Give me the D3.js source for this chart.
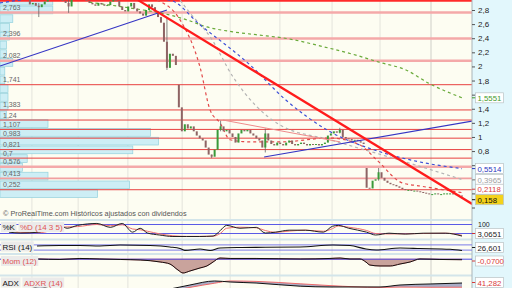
<!DOCTYPE html>
<html>
<head>
<meta charset="utf-8">
<script src="https://cdn.jsdelivr.net/npm/d3@7"></script>
<style>
html, body { margin: 0; padding: 0; background: #fdfdf2; }
svg { display: block; font-family: "Liberation Sans", Arial, sans-serif; }
</style>
</head>
<body>
<div id="chart"></div>
<script>
// ---- price data (one candle per bar index) ----
const closes = [
    3.05, 3.08, 3.10, 3.06, 3.02, 3.00, 2.98, 2.96,
    2.88, 2.90, 2.86, 2.84, 2.88, 2.92, 2.95, 2.97, 2.98, 2.96, 2.95, 2.93,
    2.90, 2.85, 2.95, 3.00, 3.00, 2.98, 2.96, 2.93, 2.90, 2.88, 2.86, 2.90,
    2.88, 2.86, 2.87, 2.92, 2.95, 2.93, 2.85, 2.80, 2.78, 2.85, 2.90, 2.82,
    2.78, 2.75, 2.72, 2.80, 2.88, 2.84, 2.78, 2.70, 2.62, 2.35, 1.98, 2.18,
    2.15, 2.02, 1.42, 1.08, 1.18, 1.12, 1.15, 1.08, 1.02, 0.98, 0.95, 0.85,
    0.75, 0.72, 0.82, 1.10, 1.15, 1.08, 1.10, 1.05, 1.00, 0.92, 1.05, 1.10,
    1.08, 1.10, 1.05, 1.02, 0.98, 0.95, 0.85, 1.05, 0.95, 0.90, 0.88, 0.92,
    0.90, 0.88, 0.92, 0.95, 0.90, 0.88, 0.90, 0.92, 0.90, 0.88, 0.90, 0.89,
    0.90, 0.88, 0.90, 0.92, 1.02, 1.05, 1.08, 1.06, 1.10, 1.00, 0.98, 0.97,
    0.95, 0.96, 0.94, 0.92, 0.90, 0.28, 0.27, 0.38, 0.40, 0.50, 0.42, 0.38,
    0.35, 0.33, 0.32, 0.30, 0.28, 0.26, 0.25, 0.25, 0.24, 0.24, 0.23, 0.22,
    0.21, 0.20, 0.19, 0.19, 0.20, 0.19, 0.19, 0.20, 0.20, 0.20, 0.19, 0.18,
    0.17, 0.158
];
const gapOpens = { 58: 1.74, 121: 0.56 };
const wicks = [[11, 2.90, 2.70], [21, 2.95, 2.76], [54, 2.70, 1.95], [72, 1.23, 1.08],
               [87, 1.12, 0.78], [112, 1.13, 1.05], [125, 0.56, 0.38], [69, 0.75, 0.70]];

// ---- support / resistance levels ----
const levels = [2.93, 2.763, 2.396, 2.082, 1.741, 1.383, 1.24, 1.107, 0.983, 0.821, 0.7, 0.576, 0.413, 0.252];
const levelLabels = ["", "2,763", "2,396", "2,082", "1,741", "1,383", "1,24", "1,107", "0,983", "0,821", "0,7", "0,576", "0,413", "0,252"];
const levelKind = ["top", "pale", "pale", "pale", "thin", "thin", "thin", "thin", "thin", "thin", "thin", "pale", "mid", "thin"];

// ---- volume profile ----
const profileLow = [0.135, 0.259, 0.383, 0.507, 0.631, 0.755, 0.879, 1.003, 1.127, 1.251, 1.375, 1.499,
                    1.623, 1.747, 1.871, 1.995, 2.119, 2.243, 2.367, 2.491, 2.615, 2.739, 2.863];
const profileVolume = [6.1, 8.1, 3.0, 1.4, 1.7, 8.3, 9.9, 9.4, 3.0, 0.4, 0.5, 0.5,
                       0.5, 0.3, 0.3, 0.8, 0.4, 0.4, 0.6, 0.6, 0.8, 3.3, 3.3];

// ---- moving averages [bar index, price] ----
const maGreen = [[28, 2.91], [46, 2.80], [51.7, 2.76], [60.7, 2.66], [67.4, 2.56], [76.2, 2.49], [83.9, 2.45],
                 [95, 2.39], [106.4, 2.28], [117.4, 2.16], [125.2, 2.06], [134.2, 1.95], [141.9, 1.76], [153, 1.5551]];
const maBlue = [[-2, 2.90], [8, 2.96], [31.5, 3.03], [55, 2.94], [65.1, 2.59], [81.9, 2.02], [94, 1.52],
                [107.7, 1.10], [125.5, 0.79], [138.9, 0.645], [153, 0.5514]];
const maGrey = [[58.4, 2.94], [61.7, 2.76], [68.5, 2.42], [76.2, 1.85], [91.9, 1.17], [108.7, 0.96],
                [132.2, 0.67], [153, 0.3965]];
const maRed = [[50.7, 2.94], [58.4, 2.66], [65.1, 1.99], [68.5, 1.38], [71.8, 1.20], [75.2, 0.96], [81.9, 0.93],
               [91.9, 0.93], [108.7, 0.985], [118.8, 0.885], [124.5, 0.67], [132.9, 0.35], [138.9, 0.305], [153, 0.2118]];

// ---- trend lines [bar index, price] ----
const trendBlueUp = [[-2, 2.006], [54, 2.80]];
const trendBlueLow = [[86.6, 0.716], [156.4, 1.226]];
const trendRed = [[44.3, 2.94], [156.4, 0.05]];
const trendPink = [[72.8, 1.24], [112.1, 0.93]];

const priceTicks = [0, 0.2, 0.4, 0.6, 0.8, 1, 1.2, 1.4, 1.6, 1.8, 2, 2.2, 2.4, 2.6, 2.8];
const monthIdx = [8.7, 24.2, 40.9, 59.1, 75.2, 91.9, 109.4, 125.5, 142.6];

// ---- indicators ----
const stochIdx = [1, 5, 11, 15, 18, 20.5, 24, 30.5, 35, 39, 42.5, 45, 47.5, 51.5, 56, 60.5, 65, 69.5, 72, 74,
                  78.5, 84, 87, 90.5, 95, 100.5, 106.5, 109.5, 111.5, 115, 121, 124, 128.5, 134, 140, 147.5, 153];
const stochK = [29, 23, 29, 55, 74, 55, 74, 87, 61, 87, 29, 55, 23, 10, 0, 0, 0, 3, 42, 74,
                55, 61, 23, 29, 42, 42, 29, 68, 74, 55, 29, 10, 22, 16, 22, 22, 3];
const stochD = [35, 27, 25, 40, 62, 64, 66, 80, 72, 78, 50, 45, 35, 18, 5, 1, 1, 2, 22, 55,
                62, 58, 40, 28, 36, 42, 35, 52, 70, 62, 40, 20, 17, 18, 20, 22, 8];

const rsiIdx = [10.4, 18.1, 24.8, 31.5, 38.3, 48.3, 55, 58.4, 60, 65.1, 68.5, 71.8, 78.5, 83.9, 98.7,
                109.7, 115.4, 120.8, 124.2, 132.2, 138.9, 149, 153];
const rsiVals = [62, 65, 65, 62, 69, 65, 54, 42, 28, 38, 27, 46, 50, 51, 54, 69, 65, 38, 31, 46, 42, 36, 26.6];

const momIdx = [10.4, 18.1, 24.8, 31.5, 38.3, 45, 51.7, 55, 57.7, 59.4, 61.7, 65.1, 67.4, 69.5, 71.8, 75.2,
                83.9, 98.7, 108.7, 112.1, 115.4, 118.8, 120.8, 122.1, 125.5, 128.9, 132.2, 135.6, 138.9, 145.6, 153];
const momVals = [0.03, -0.04, 0.10, 0.03, -0.04, -0.11, -0.38, -0.66, -1.48, -1.89, -1.62, -1.20, -0.93, -0.38,
                 0.16, 0.10, 0.10, 0.03, 0.10, 0.16, 0.03, 0.03, -0.40, -0.80, -0.93, -0.93, -0.66, -0.38, 0.03, -0.04, -0.07];

const adxIdx = [2, 8, 11.4, 14.8, 20, 40, 55, 61.7, 70, 75.2, 83.9, 98.7, 108.7, 125.5, 132.2, 142.3, 153];
const adxVals = [36, 38.3, 42.5, 38.3, 35, 32, 38.3, 45, 51.7, 50, 48.3, 43, 41.7, 41.7, 45, 46.7, 48.3];
const adxrVals = [33, 35, 37, 38, 36, 33, 35, 41, 48, 51.7, 51, 47, 44, 41, 41.5, 41.2, 41.282];

// ---- layout ----
const W = 512, H = 288;
const plotRight = 472;
const mainBottom = 219;
const panels = {
    stoch: [221, 238.5],
    rsi: [240.5, 253],
    mom: [255, 274.5],
    adx: [276.5, 288]
};

const fmt = d => d3.format(".1~f")(d).replace(".", ",");

const svg = d3.select("#chart").append("svg")
    .attr("width", W)
    .attr("height", H)
    .attr("viewBox", `0 0 ${W} ${H}`);

const x = d3.scaleLinear().domain([0, 153]).range([6, 462]);
const y = d3.scaleLinear().domain([0, 2.8]).range([207.5, 10]);

// backgrounds
svg.append("rect").attr("x", 0).attr("y", 0).attr("width", W).attr("height", H).attr("fill", "#fdfdf2");
svg.append("rect").attr("x", plotRight).attr("y", 0).attr("width", W - plotRight).attr("height", H).attr("fill", "#e2f7fc");

const defs = svg.append("defs");
function addClip(id, x0, y0, w, h){
    defs.append("clipPath").attr("id", id)
        .append("rect").attr("x", x0).attr("y", y0).attr("width", w).attr("height", h);
}
addClip("clip-main", 0, 0, plotRight, mainBottom);
Object.entries(panels).forEach(([k, [t, b]]) => addClip("clip-" + k, 0, t, plotRight, b - t));

// month grid
svg.append("g").selectAll("line")
    .data(monthIdx)
    .enter()
    .append("line")
        .attr("x1", d => x(d)).attr("x2", d => x(d))
        .attr("y1", 0).attr("y2", H)
        .attr("stroke", (d, i) => i === monthIdx.length - 1 ? "#cfcfc8" : "#e4e4dc")
        .attr("stroke-width", 1);

// panel separators
[mainBottom, panels.stoch[1], panels.rsi[1], panels.mom[1]].forEach(yy => {
    svg.append("rect").attr("x", 0).attr("y", yy).attr("width", plotRight).attr("height", 2)
        .attr("fill", "#d3e5ea");
});

// ===== main price panel =====
const main = svg.append("g").attr("clip-path", "url(#clip-main)");

const volX = d3.scaleLinear().domain([0, 10]).range([0, 160]);
main.append("g").selectAll("rect")
    .data(profileLow)
    .enter()
    .append("rect")
        .attr("x", 0)
        .attr("y", d => y(d + 0.124) + 0.5)
        .attr("width", (d, i) => volX(profileVolume[i]))
        .attr("height", d => y(d) - y(d + 0.124) - 1)
        .attr("fill", "#cdeef5")
        .attr("stroke", "#93d0dc")
        .attr("stroke-width", 0.7);

const levelStyle = {
    top: { c: "#ff2a2a", w: 2 },
    pale: { c: "#f4a9a9", w: 2.5 },
    mid: { c: "#f1a0a0", w: 1.6 },
    thin: { c: "#e8403f", w: 1 }
};
main.append("g").selectAll("line")
    .data(levels)
    .enter()
    .append("line")
        .attr("x1", 0).attr("x2", plotRight)
        .attr("y1", d => y(d)).attr("y2", d => y(d))
        .attr("stroke", (d, i) => levelStyle[levelKind[i]].c)
        .attr("stroke-width", (d, i) => levelStyle[levelKind[i]].w);

const line = d3.line().x(d => x(d[0])).y(d => y(d[1]));
const smooth = d3.line().x(d => x(d[0])).y(d => y(d[1])).curve(d3.curveMonotoneX);

[[maGreen, "#6aaa3a"], [maGrey, "#b4b4b4"], [maBlue, "#3c4fd6"], [maRed, "#e24a4a"]].forEach(([pts, c]) => {
    main.append("path")
        .attr("d", smooth(pts))
        .attr("fill", "none")
        .attr("stroke", c)
        .attr("stroke-width", 1.2)
        .attr("stroke-dasharray", "3,3");
});

// candles
const opens = closes.map((c, i) => gapOpens[i] !== undefined ? gapOpens[i] : (i ? closes[i - 1] : c));
const candles = main.append("g");
candles.selectAll("line")
    .data(wicks)
    .enter()
    .append("line")
        .attr("x1", d => x(d[0])).attr("x2", d => x(d[0]))
        .attr("y1", d => y(d[1])).attr("y2", d => y(d[2]))
        .attr("stroke", "#666")
        .attr("stroke-width", 0.8);
candles.selectAll("rect")
    .data(closes)
    .enter()
    .append("rect")
        .attr("x", (d, i) => x(i) - 1)
        .attr("y", (d, i) => y(Math.max(d, opens[i])))
        .attr("width", 2)
        .attr("height", (d, i) => Math.max(1, Math.abs(y(d) - y(opens[i]))))
        .attr("fill", (d, i) => d >= opens[i] ? "#3a9a3a" : "#8e6464");

// trend lines
main.append("path").attr("d", line(trendBlueUp)).attr("stroke", "#3535c4").attr("stroke-width", 1.2).attr("fill", "none");
main.append("path").attr("d", line(trendBlueLow)).attr("stroke", "#3535c4").attr("stroke-width", 1.2).attr("fill", "none");
main.append("path").attr("d", line(trendPink)).attr("stroke", "#ee8a8a").attr("stroke-width", 1).attr("fill", "none");
main.append("path").attr("d", line(trendRed)).attr("stroke", "#ff1c1c").attr("stroke-width", 2.2).attr("fill", "none");

// level labels
main.append("g").selectAll("text")
    .data(levels)
    .enter()
    .append("text")
        .attr("x", 3)
        .attr("y", d => y(d) - 2.5)
        .attr("font-size", 7)
        .attr("fill", "#666")
        .text((d, i) => levelLabels[i]);

// credit
svg.append("text")
    .attr("x", 3).attr("y", 216)
    .attr("font-size", 7.3)
    .attr("fill", "#555")
    .text("© ProRealTime.com  Históricos ajustados con dividendos");

// last-value boxes (price panel)
const maLast = [
    { v: maGreen[maGreen.length - 1][1], t: "1,5551", c: "#3f9a2a", bg: "#fff" },
    { v: maBlue[maBlue.length - 1][1], t: "0,5514", c: "#2a36c0", bg: "#fff" },
    { v: maGrey[maGrey.length - 1][1], t: "0,3965", c: "#a0a0a0", bg: "#fff" },
    { v: maRed[maRed.length - 1][1], t: "0,2118", c: "#d83a3a", bg: "#fff" },
    { v: closes[closes.length - 1], t: "0,158", c: "#111", bg: "#f4d21a" }
];
maLast.forEach(d => d.cy = y(d.v));
for (let i = 1; i < maLast.length; i++) {
    const a = maLast[i - 1], b = maLast[i];
    if (b.cy - a.cy < 10.5) {
        const mid = (a.cy + b.cy) / 2;
        a.cy = mid - 5.25;
        b.cy = mid + 5.25;
    }
}

// right axis (tick labels that sit under a value box are left out)
svg.append("line").attr("x1", plotRight).attr("x2", plotRight).attr("y1", 0).attr("y2", H)
    .attr("stroke", "#a9b4b8");
const hidden = d => maLast.some(m => Math.abs(m.cy - y(d)) < 9);
const axis = svg.append("g")
    .attr("transform", `translate(${plotRight},0)`)
    .call(d3.axisRight(y).tickValues(priceTicks).tickSize(3).tickFormat(d => hidden(d) ? "" : fmt(d)));
axis.select(".domain").remove();
axis.selectAll("line").attr("stroke", "#555");
axis.selectAll("text").attr("font-size", 8).attr("fill", "#222").attr("font-family", "Liberation Sans, Arial, sans-serif");

function valueBox(cy, t, c, bg, tickColor){
    const g = svg.append("g");
    g.append("line").attr("x1", plotRight).attr("x2", plotRight + 4).attr("y1", cy).attr("y2", cy)
        .attr("stroke", tickColor || c).attr("stroke-width", 1);
    g.append("rect").attr("x", plotRight + 3.5).attr("y", cy - 5).attr("width", 28).attr("height", 10)
        .attr("fill", bg).attr("stroke", "#b9c2c4").attr("stroke-width", 0.7);
    g.append("text").attr("x", plotRight + 5.5).attr("y", cy + 3).attr("font-size", 7.8)
        .attr("fill", c).text(t);
}
maLast.forEach(d => valueBox(d.cy, d.t, d.c, d.bg));

// ===== indicator panels =====
function panelLabel(parts, top){
    let xx = 1;
    parts.forEach(([t, c]) => {
        const rect = svg.append("rect").attr("x", xx).attr("y", top + 1).attr("height", 10)
            .attr("fill", "#ebebea");
        const txt = svg.append("text").attr("x", xx + 1.5).attr("y", top + 9).attr("font-size", 8)
            .attr("fill", c).text(t);
        const w = txt.node().getComputedTextLength() + 3;
        rect.attr("width", w);
        xx += w + 2;
    });
}
function clampBox(cy, [t, b]){
    return Math.max(t + 5.5, Math.min(b - 5.5, cy));
}

// stochastic
const sy = d3.scaleLinear().domain([0, 100]).range([236.5, 221.5]);
const gs = svg.append("g").attr("clip-path", "url(#clip-stoch)");
[80, 20].forEach(v => gs.append("line").attr("x1", 0).attr("x2", plotRight).attr("y1", sy(v)).attr("y2", sy(v))
    .attr("stroke", "#5a5ae6").attr("stroke-width", 1));
const sLine = d3.line().x((d, i) => x(stochIdx[i])).y(d => sy(d)).curve(d3.curveMonotoneX);
gs.append("path").attr("d", sLine(stochD)).attr("fill", "none").attr("stroke", "#ee7070").attr("stroke-width", 1);
gs.append("path").attr("d", sLine(stochK)).attr("fill", "none").attr("stroke", "#222").attr("stroke-width", 1);
panelLabel([["%K", "#111"], ["%D (14 3 5)", "#e05555"]], panels.stoch[0]);
svg.append("text").attr("x", plotRight + 6).attr("y", 226.5).attr("font-size", 7).attr("fill", "#222").text("100");
valueBox(clampBox(sy(stochK[stochK.length - 1]), panels.stoch) + 0.5, "3,0651", "#222", "#fff", "#d03030");

// RSI
const ry = d3.scaleLinear().domain([0, 100]).range([254, 241]);
const gr = svg.append("g").attr("clip-path", "url(#clip-rsi)");
[70, 30].forEach(v => gr.append("line").attr("x1", 0).attr("x2", plotRight).attr("y1", ry(v)).attr("y2", ry(v))
    .attr("stroke", "#7a7ae8").attr("stroke-width", 1));
addClip("clip-rsi-low", 0, ry(30), plotRight, 254 - ry(30));
const rLine = d3.line().x((d, i) => x(rsiIdx[i])).y(d => ry(d)).curve(d3.curveMonotoneX);
const rArea = d3.area().x((d, i) => x(rsiIdx[i])).y0(ry(30)).y1(d => ry(d)).curve(d3.curveMonotoneX);
gr.append("path").attr("d", rArea(rsiVals)).attr("fill", "#4caa3c").attr("clip-path", "url(#clip-rsi-low)");
gr.append("path").attr("d", rLine(rsiVals)).attr("fill", "none").attr("stroke", "#111").attr("stroke-width", 1.1);
panelLabel([["RSI (14)", "#111"]], panels.rsi[0]);
valueBox(clampBox(ry(rsiVals[rsiVals.length - 1]), panels.rsi), "26,601", "#222", "#fff", "#222");

// Momentum
const my = d3.scaleLinear().domain([-2, 0.3]).range([273.8, 257]);
const gm = svg.append("g").attr("clip-path", "url(#clip-mom)");
const mArea = d3.area().x((d, i) => x(momIdx[i])).y0(my(0)).y1(d => my(d)).curve(d3.curveMonotoneX);
const mLine = d3.line().x((d, i) => x(momIdx[i])).y(d => my(d)).curve(d3.curveMonotoneX);
gm.append("path").attr("d", mArea(momVals)).attr("fill", "#c9a39c").attr("stroke", "#e46a6a").attr("stroke-width", 0.8);
gm.append("line").attr("x1", 0).attr("x2", plotRight).attr("y1", my(0)).attr("y2", my(0))
    .attr("stroke", "#4a4ae0").attr("stroke-width", 1);
gm.append("path").attr("d", mLine(momVals)).attr("fill", "none").attr("stroke", "#111").attr("stroke-width", 1);
panelLabel([["Mom (12)", "#e05555"]], panels.mom[0]);
valueBox(clampBox(my(momVals[momVals.length - 1]), panels.mom) + 0.5, "-0,0700", "#d83a3a", "#fff", "#d83a3a");

// ADX / ADXR
const ay = d3.scaleLinear().domain([20, 60]).range([300, 276]);
const ga = svg.append("g").attr("clip-path", "url(#clip-adx)");
const aArea = d3.area().x((d, i) => x(adxIdx[i])).y0((d, i) => ay(adxrVals[i])).y1(d => ay(d)).curve(d3.curveMonotoneX);
const aLine = d3.line().x((d, i) => x(adxIdx[i])).y(d => ay(d)).curve(d3.curveMonotoneX);
ga.append("path").attr("d", aArea(adxVals)).attr("fill", "#a9adc6");
ga.append("path").attr("d", aLine(adxrVals)).attr("fill", "none").attr("stroke", "#ee6a6a").attr("stroke-width", 1);
ga.append("path").attr("d", aLine(adxVals)).attr("fill", "none").attr("stroke", "#111").attr("stroke-width", 1);
panelLabel([["ADX", "#111"], ["ADXR (14)", "#e05555"]], panels.adx[0]);
valueBox(Math.min(ay(adxrVals[adxrVals.length - 1]), 282.5), "41,282", "#d83a3a", "#fff", "#d83a3a");
</script>
</body>
</html>
